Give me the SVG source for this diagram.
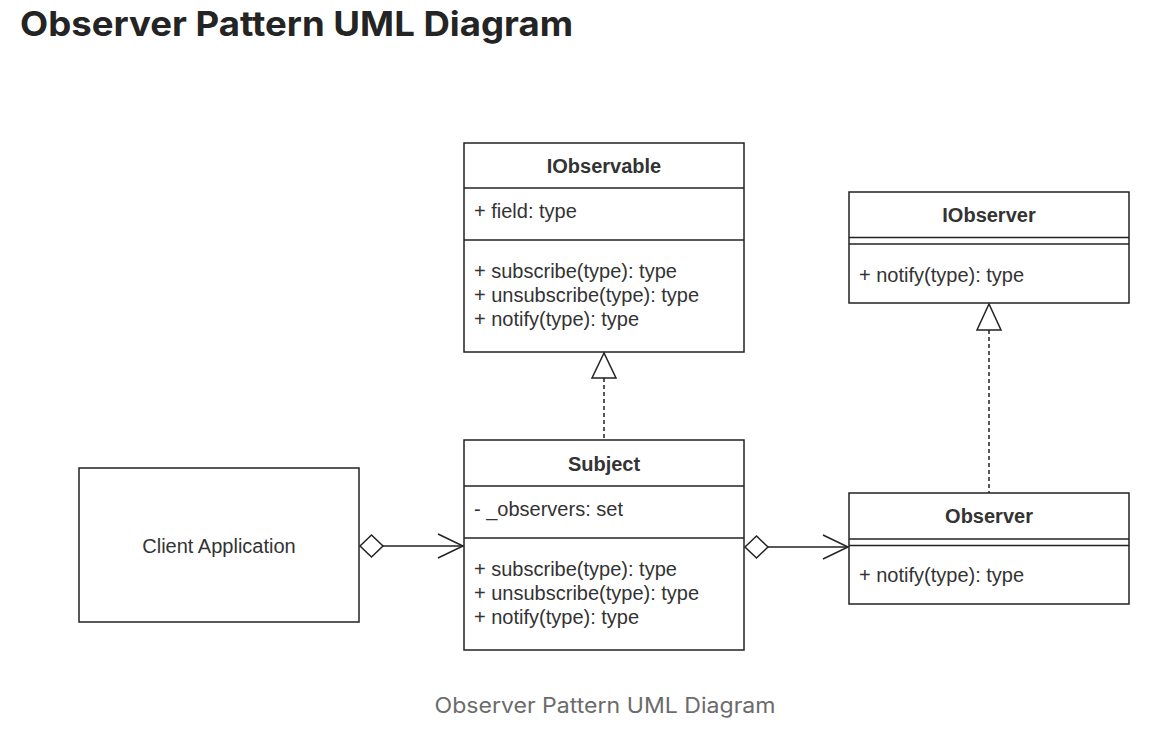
<svg xmlns="http://www.w3.org/2000/svg" width="1167" height="739" viewBox="0 0 1167 739">
<style>
.box{fill:#fff;stroke:#222;stroke-width:1.5}
.ln{stroke:#222;stroke-width:1.5;fill:none}
.t{font-family:"Liberation Sans",Arial,sans-serif;font-size:20px;fill:#333}
.b{font-weight:bold;text-anchor:middle}
.c{text-anchor:middle}
.dash{stroke:#222;stroke-width:1.5;fill:none;stroke-dasharray:4 3}
.head{fill:#fff;stroke:#222;stroke-width:1.5}
</style>
<rect width="1167" height="739" fill="#fff"/>
<text x="20" y="36" font-family="Inter,'Liberation Sans',Arial,sans-serif" font-size="34" font-weight="bold" fill="#242424" textLength="553" lengthAdjust="spacingAndGlyphs">Observer Pattern UML Diagram</text>

<g id="IObservable">
<rect class="box" x="464" y="143" width="280" height="209"/>
<line class="ln" x1="464" y1="188" x2="744" y2="188"/>
<line class="ln" x1="464" y1="240" x2="744" y2="240"/>
<text class="t b" x="604" y="173">IObservable</text>
<text class="t" x="474" y="218">+ field: type</text>
<text class="t" x="474" y="278">+ subscribe(type): type</text>
<text class="t" x="474" y="302">+ unsubscribe(type): type</text>
<text class="t" x="474" y="326">+ notify(type): type</text>
</g>

<g id="IObserver">
<rect class="box" x="849" y="192" width="280" height="111"/>
<line class="ln" x1="849" y1="237.5" x2="1129" y2="237.5"/>
<line class="ln" x1="849" y1="244" x2="1129" y2="244"/>
<text class="t b" x="989" y="222">IObserver</text>
<text class="t" x="859" y="282">+ notify(type): type</text>
</g>

<g id="Subject">
<rect class="box" x="464" y="440" width="280" height="210"/>
<line class="ln" x1="464" y1="486" x2="744" y2="486"/>
<line class="ln" x1="464" y1="538" x2="744" y2="538"/>
<text class="t b" x="604" y="471">Subject</text>
<text class="t" x="474" y="516">- _observers: set</text>
<text class="t" x="474" y="576">+ subscribe(type): type</text>
<text class="t" x="474" y="600">+ unsubscribe(type): type</text>
<text class="t" x="474" y="624">+ notify(type): type</text>
</g>

<g id="Observer">
<rect class="box" x="849" y="493" width="280" height="111"/>
<line class="ln" x1="849" y1="539" x2="1129" y2="539"/>
<line class="ln" x1="849" y1="545.5" x2="1129" y2="545.5"/>
<text class="t b" x="989" y="523">Observer</text>
<text class="t" x="859" y="582">+ notify(type): type</text>
</g>

<g id="ClientApplication">
<rect class="box" x="79" y="468" width="280" height="154"/>
<text class="t c" x="219" y="553">Client Application</text>
</g>

<g id="connectors">
<line class="dash" x1="604" y1="378" x2="604" y2="440"/>
<polygon class="head" points="604,353 592,378 616,378"/>
<line class="dash" x1="989" y1="330" x2="989" y2="493"/>
<polygon class="head" points="989,304 977,330 1001,330"/>
<line class="ln" x1="383" y1="546" x2="463" y2="546"/>
<polygon class="head" points="360,546 371.5,535 383,546 371.5,557"/>
<polyline class="ln" points="438,534 463,546 438,558"/>
<line class="ln" x1="768" y1="547" x2="848" y2="547"/>
<polygon class="head" points="745,547 756.5,536 768,547 756.5,558"/>
<polyline class="ln" points="823,535 848,547 823,559"/>
</g>

<text x="605" y="713" font-family="Inter,'Liberation Sans',Arial,sans-serif" font-size="21" fill="#6b6b6b" text-anchor="middle" textLength="341" lengthAdjust="spacingAndGlyphs">Observer Pattern UML Diagram</text>
</svg>
